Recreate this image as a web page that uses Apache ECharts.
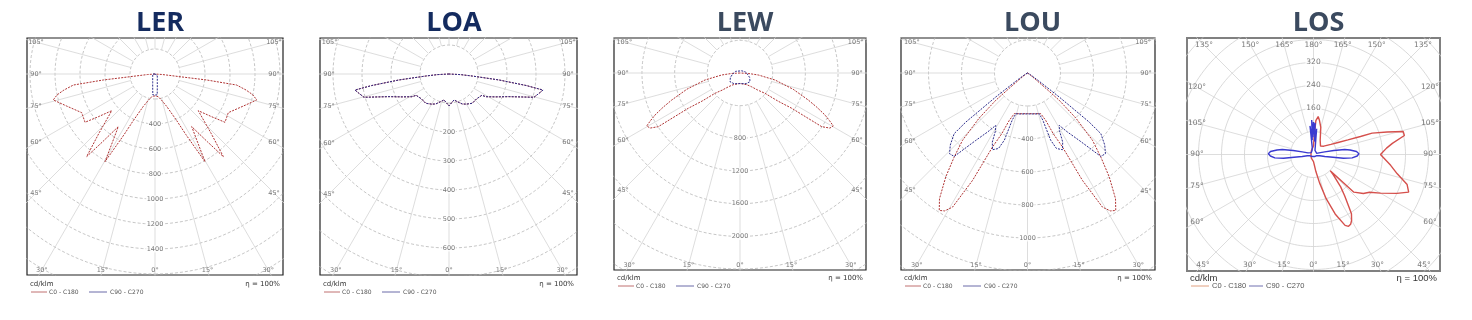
<!DOCTYPE html>
<html><head><meta charset="utf-8">
<script src="https://cdn.jsdelivr.net/npm/echarts@6/dist/echarts.min.js"></script>
<style>html,body{margin:0;padding:0;background:#fff}#c{width:1472px;height:320px}</style>
</head><body><div id="c"></div>
<script>
// ================= DATA (gamma angle in degrees, intensity in cd/klm) =================
const titles = ['LER', 'LOA', 'LEW', 'LOU', 'LOS'];
const planeNames = ['C0 - C180', 'C90 - C270'];
const unitLabel = 'cd/klm';
const etaLabel = 'η = 100%';

// LER
const LER_gamma = [0, 8, 14, 20, 25, 27, 29.7, 31.7, 34.9, 37.7, 39.6, 43.4, 49.7, 53, 55.4, 62.2, 70, 75.7, 78, 80, 82.3, 83.4, 83.8, 86, 90, 180];
const LER_C0    = [175, 183, 215, 278, 412, 543, 808, 659, 513, 684, 858, 653, 454, 568, 680, 663, 751, 840, 800, 740, 659, 416, 201, 60, 0, 0];
const LER_C180  = [175, 183, 215, 278, 412, 543, 808, 659, 513, 684, 858, 653, 454, 568, 680, 663, 751, 840, 800, 740, 659, 416, 201, 60, 0, 0];
const LER_gamma_b = [0, 3, 6, 8, 10, 15, 20, 30, 45, 60, 90, 180];
const LER_C90     = [168, 170, 168, 130, 106, 71, 54, 37, 26, 21, 18, 0];
const LER_C270    = [168, 170, 168, 130, 106, 71, 54, 37, 26, 21, 18, 0];
const LER_ticks = [400, 600, 800, 1000, 1200, 1400];

// LOA
const LOA_gamma = [0, 5, 10.9, 17, 23.9, 30, 38.5, 48, 57, 58.5, 64, 69.3, 74.7, 78, 80.3, 81.5, 83.2, 85, 87, 90, 180];
const LOA_C0    = [110, 100, 91, 100, 113, 120, 129, 128, 135, 150, 180, 221, 304, 318, 329, 270, 174, 81, 40, 0, 0];
const LOA_C180  = [110, 100, 91, 100, 113, 120, 129, 128, 135, 150, 180, 221, 304, 318, 329, 270, 174, 81, 40, 0, 0];
const LOA_C90   = [110, 100, 91, 100, 113, 120, 129, 128, 135, 150, 180, 221, 304, 318, 329, 270, 174, 81, 40, 0, 0];
const LOA_C270  = [110, 100, 91, 100, 113, 120, 129, 128, 135, 150, 180, 221, 304, 318, 329, 270, 174, 81, 40, 0, 0];
const LOA_ticks = [200, 300, 400, 500, 600];

// LEW
const LEW_gamma = [0, 15, 30, 40, 46, 50.9, 53.5, 55.7, 56.7, 58.5, 60.4, 62, 63.7, 66, 68.4, 73, 78.7, 83.8, 87, 90, 180];
const LEW_C0    = [127, 140, 165, 220, 300, 394, 580, 766, 1197, 1290, 1313, 1240, 1160, 1030, 899, 680, 437, 225, 100, 0, 0];
const LEW_C180  = [127, 140, 165, 220, 300, 394, 580, 766, 1197, 1290, 1313, 1240, 1160, 1030, 899, 680, 437, 225, 100, 0, 0];
const LEW_gamma_b = [0, 30, 49, 65, 82, 100, 111, 140, 180];
const LEW_C90     = [130, 150, 162, 130, 91, 70, 57, 35, 25];
const LEW_C270    = [130, 150, 162, 130, 91, 70, 57, 35, 25];
const LEW_ticks = [800, 1200, 1600, 2000];

// LOU
const LOU_gamma = [0, 9, 18, 21, 23, 25.3, 27.1, 29.2, 31, 32.7, 35, 38.2, 41, 44, 47, 49.3, 50, 52, 55, 60, 90, 180];
const LOU_C0    = [246, 250, 259, 307, 400, 496, 731, 931, 975, 990, 930, 801, 680, 567, 400, 253, 150, 50, 15, 5, 0, 0];
const LOU_C180  = [246, 250, 259, 307, 400, 496, 731, 931, 975, 990, 930, 801, 680, 567, 400, 253, 150, 50, 15, 5, 0, 0];
const LOU_gamma_b = [0, 10, 16, 18, 19, 21, 24.5, 27, 29, 31.2, 34, 37.5, 41.3, 44, 47, 50.4, 51.5, 52.9, 55, 60, 90, 180];
const LOU_C90     = [248, 252, 257, 300, 430, 490, 511, 470, 400, 371, 430, 515, 673, 680, 640, 577, 477, 241, 80, 20, 0, 0];
const LOU_C270    = [248, 252, 257, 300, 430, 490, 511, 470, 400, 371, 430, 515, 673, 680, 640, 577, 477, 241, 80, 20, 0, 0];
const LOU_ticks = [400, 600, 800, 1000];

// LOS
const LOS_gamma_r = [0, 4, 8, 12, 16, 20, 24, 26, 28, 30, 32.6, 34, 37, 40, 44, 46, 47, 52, 56, 60, 65, 68.4, 72.2, 77, 82, 90, 95, 98, 101.8, 104.4, 107, 110, 111, 113, 116, 120, 129, 140, 155, 165, 170, 173, 176, 178, 180];
const LOS_C0      = [25, 35, 60, 100, 160, 220, 270, 278, 275, 265, 245, 221, 180, 147, 100, 81, 192, 220, 235, 269, 320, 356, 342, 299, 271, 233, 255, 277, 323, 322, 268, 217, 175, 130, 95, 70, 46, 38, 55, 98, 120, 133, 118, 60, 30];
const LOS_gamma_l = [0, 30, 60, 90, 120, 150, 180];
const LOS_C180    = [25, 15, 10, 8, 10, 15, 30];
const LOS_gamma_b = [0, 30, 60, 70, 75, 78, 80, 81, 83, 85, 88, 91, 94, 97, 99, 101, 103, 106, 110, 130, 160, 170, 173, 175, 177, 178.5, 180];
const LOS_C90     = [10, 8, 10, 12, 15, 22, 40, 50, 105, 135, 152, 158, 150, 128, 110, 72, 40, 20, 12, 10, 15, 20, 90, 45, 110, 70, 113];
const LOS_C270    = [10, 8, 10, 12, 15, 22, 40, 50, 105, 135, 150, 157, 150, 128, 110, 72, 40, 20, 12, 10, 15, 25, 100, 50, 120, 60, 113];
const LOS_ticks = [160, 240, 320];

// ================= LAYOUT / STYLE =================
const LAYOUT = [
  {cx:155, cy:74, left:27, right:283, top:38, bottom:275, scale:0.125, step:200, titleColor:'#142b5f',
   red:'#b03434', blue:'#2d2d8c', lw:1, dash:[2,1.2], border:'#222', borderW:1.2, circleDash:[3,2],
   fs:6.5, inset:[9,4,5], angles:[0,15,30,45,60,75,90,105], tickSign:1, legY:284},
  {cx:449, cy:74, left:320, right:577, top:38, bottom:275, scale:0.29, step:100, titleColor:'#142b5f',
   red:'#b03434', blue:'#2d2d8c', lw:1, dash:[2,1.2], border:'#222', borderW:1.2, circleDash:[3,2],
   fs:6.5, inset:[9,4,5], angles:[0,15,30,45,60,75,90,105], tickSign:1, legY:284},
  {cx:740, cy:73, left:614, right:866, top:38, bottom:270, scale:0.0817, step:400, titleColor:'#3b4a5f',
   red:'#b03434', blue:'#2d2d8c', lw:1, dash:[2,1.2], border:'#222', borderW:1.2, circleDash:[3,2],
   fs:6.5, inset:[9,4,5], angles:[0,15,30,45,60,75,90,105], tickSign:1, legY:278},
  {cx:1027.5, cy:73, left:901, right:1155, top:38, bottom:270, scale:0.165, step:200, titleColor:'#3b4a5f',
   red:'#b03434', blue:'#2d2d8c', lw:1, dash:[2,1.2], border:'#222', borderW:1.2, circleDash:[3,2],
   fs:6.5, inset:[9,4,5], angles:[0,15,30,45,60,75,90,105], tickSign:1, legY:278},
  {cx:1313.5, cy:154.5, left:1187, right:1440, top:38, bottom:271, scale:0.2875, step:80, titleColor:'#3b4a5f',
   red:'#d5504c', blue:'#3a3ad0', lw:1.4, dash:'solid', border:'#808080', borderW:2, circleDash:'solid',
   fs:7.5, inset:[10,7,6], angles:[0,15,30,45,60,75,90,105,120,135,150,165,180], tickSign:-1, legY:278}
];

function polarPts(gam, val, side) {
  return gam.map((g, k) => { const a = g * Math.PI / 180; return [side * val[k] * Math.sin(a), val[k] * Math.cos(a)]; });
}
function plane(gA, vA, gB, vB) {
  return polarPts(gB, vB, -1).reverse().concat(polarPts(gA, vA, 1));
}
const PANEL_DATA = [
  {red: plane(LER_gamma, LER_C0, LER_gamma, LER_C180), blue: plane(LER_gamma_b, LER_C90, LER_gamma_b, LER_C270), ticks: LER_ticks},
  {red: plane(LOA_gamma, LOA_C0, LOA_gamma, LOA_C180), blue: plane(LOA_gamma, LOA_C90, LOA_gamma, LOA_C270), ticks: LOA_ticks},
  {red: plane(LEW_gamma, LEW_C0, LEW_gamma, LEW_C180), blue: plane(LEW_gamma_b, LEW_C90, LEW_gamma_b, LEW_C270), ticks: LEW_ticks},
  {red: plane(LOU_gamma, LOU_C0, LOU_gamma, LOU_C180), blue: plane(LOU_gamma_b, LOU_C90, LOU_gamma_b, LOU_C270), ticks: LOU_ticks},
  {red: plane(LOS_gamma_r, LOS_C0, LOS_gamma_l, LOS_C180), blue: plane(LOS_gamma_b, LOS_C90, LOS_gamma_b, LOS_C270), ticks: LOS_ticks}
];

const option = {animation:false, title:[], grid:[], xAxis:[], yAxis:[], series:[], graphic:[]};

function rayInset(L, g, side) {
  const a = g * Math.PI / 180, s = side * Math.sin(a), c = Math.cos(a);
  const lx = L.left - L.cx + L.inset[0], rx = L.right - L.cx - L.inset[0];
  const ty = L.top - L.cy + L.inset[1], by = L.bottom - L.cy - L.inset[2];
  let t = Infinity;
  if (s > 1e-9) t = Math.min(t, rx / s);
  if (s < -1e-9) t = Math.min(t, lx / s);
  if (c > 1e-9) t = Math.min(t, by / c);
  if (c < -1e-9) t = Math.min(t, ty / c);
  return [s * t / L.scale, c * t / L.scale];
}

function txt(x, y, text, size, color, align, family) {
  return {type: 'text', x: x, y: y, z: 10, style: {text: text, fill: color, font: `${size}px "${family || 'DejaVu Sans'}"`,
    textAlign: align, align: align, textVerticalAlign: 'middle', verticalAlign: 'middle'}};
}

LAYOUT.forEach((L, i) => {
  const D = PANEL_DATA[i];
  option.title.push({text: titles[i], left: L.cx, top: 5, textAlign: 'center',
    textStyle: {fontSize: 27, fontWeight: 'bold', fontFamily: 'Open Sans', color: L.titleColor}});
  option.grid.push({left: L.left, top: L.top, width: L.right - L.left, height: L.bottom - L.top,
    show: true, borderColor: L.border, borderWidth: L.borderW, backgroundColor: '#fff'});
  option.xAxis.push({type: 'value', gridIndex: i, min: (L.left - L.cx) / L.scale, max: (L.right - L.cx) / L.scale,
    show: false, splitLine: {show: false}});
  option.yAxis.push({type: 'value', gridIndex: i, inverse: true, min: (L.top - L.cy) / L.scale, max: (L.bottom - L.cy) / L.scale,
    show: false, splitLine: {show: false}});
  const corner = Math.max(...[[L.left, L.top], [L.right, L.top], [L.left, L.bottom], [L.right, L.bottom]]
    .map(p => Math.hypot(p[0] - L.cx, p[1] - L.cy))) / L.scale;
  // circles
  for (let r = L.step; r <= corner + L.step; r += L.step) {
    const pts = [];
    for (let a = 0; a <= 360; a += 2) { const t = a * Math.PI / 180; pts.push([r * Math.sin(t), r * Math.cos(t)]); }
    option.series.push({type: 'line', xAxisIndex: i, yAxisIndex: i, data: pts, symbol: 'none', silent: true, z: 1,
      lineStyle: {color: L.circleDash === 'solid' ? '#d0d0d0' : '#b8b8b8', width: 0.8, type: L.circleDash}, clip: true});
  }
  // radial lines
  for (let a = 0; a < 360; a += 15) {
    const t = a * Math.PI / 180;
    option.series.push({type: 'line', xAxisIndex: i, yAxisIndex: i, symbol: 'none', silent: true, z: 1, clip: true,
      data: [[L.step * Math.sin(t), L.step * Math.cos(t)], [corner * 1.2 * Math.sin(t), corner * 1.2 * Math.cos(t)]],
      lineStyle: {color: '#d4d4d4', width: 0.8}});
  }
  // angle labels
  const angData = [];
  L.angles.forEach(g => {
    const sides = (g === 0 || g === 180) ? [1] : [-1, 1];
    sides.forEach(s => { const p = rayInset(L, g, s); angData.push([p[0], p[1], g + '°']); });
  });
  option.series.push({type: 'scatter', xAxisIndex: i, yAxisIndex: i, data: angData, symbolSize: 1, silent: true, z: 2,
    itemStyle: {color: 'rgba(0,0,0,0)'},
    label: {show: true, position: 'inside', formatter: p => p.value[2], fontSize: L.fs, color: '#555', fontFamily: 'DejaVu Sans'}});
  // intensity labels
  option.series.push({type: 'scatter', xAxisIndex: i, yAxisIndex: i, symbolSize: 1, silent: true, z: 2,
    data: D.ticks.map(v => [0, L.tickSign * v, String(v)]),
    itemStyle: {color: 'rgba(0,0,0,0)'},
    label: {show: true, position: 'inside', formatter: p => p.value[2], fontSize: L.fs, color: '#555',
      fontFamily: 'DejaVu Sans', backgroundColor: '#fff', padding: [0, 1]}});
  // photometric curves
  option.series.push({name: planeNames[0], type: 'line', xAxisIndex: i, yAxisIndex: i, data: D.red, symbol: 'none',
    z: 3, clip: true, lineStyle: {color: L.red, width: L.lw, type: L.dash}});
  option.series.push({name: planeNames[1], type: 'line', xAxisIndex: i, yAxisIndex: i, data: D.blue, symbol: 'none',
    z: 4, clip: true, lineStyle: {color: L.blue, width: L.lw, type: L.dash}});
  // footer texts / legend
  const big = i === 4;
  const fsz = big ? 9.5 : 7, lfs = big ? 7.5 : 6;
  const fam = big ? 'Liberation Sans' : 'DejaVu Sans';
  const y1 = L.legY, y2 = L.legY + 8;
  option.graphic.push(
    txt(L.left + 3, y1, unitLabel, fsz, '#333', 'left', fam),
    txt(L.right - 3, y1, etaLabel, fsz, '#333', 'right', fam),
    {type: 'line', z: 10, shape: {x1: L.left + 4, y1: y2, x2: L.left + (big ? 22 : 20), y2: y2}, style: {stroke: big ? '#e0a080' : '#c07070', lineWidth: 1}},
    txt(L.left + (big ? 25 : 22), y2, planeNames[0], lfs, '#555', 'left', fam),
    {type: 'line', z: 10, shape: {x1: L.left + (big ? 62 : 62), y1: y2, x2: L.left + (big ? 76 : 80), y2: y2}, style: {stroke: big ? '#7070b0' : '#6a6aa8', lineWidth: 1}},
    txt(L.left + (big ? 79 : 83), y2, planeNames[1], lfs, '#555', 'left', fam)
  );
});

const chart = echarts.init(document.getElementById('c'), null, {renderer: 'canvas'});
chart.setOption(option);
</script>
</body></html>
